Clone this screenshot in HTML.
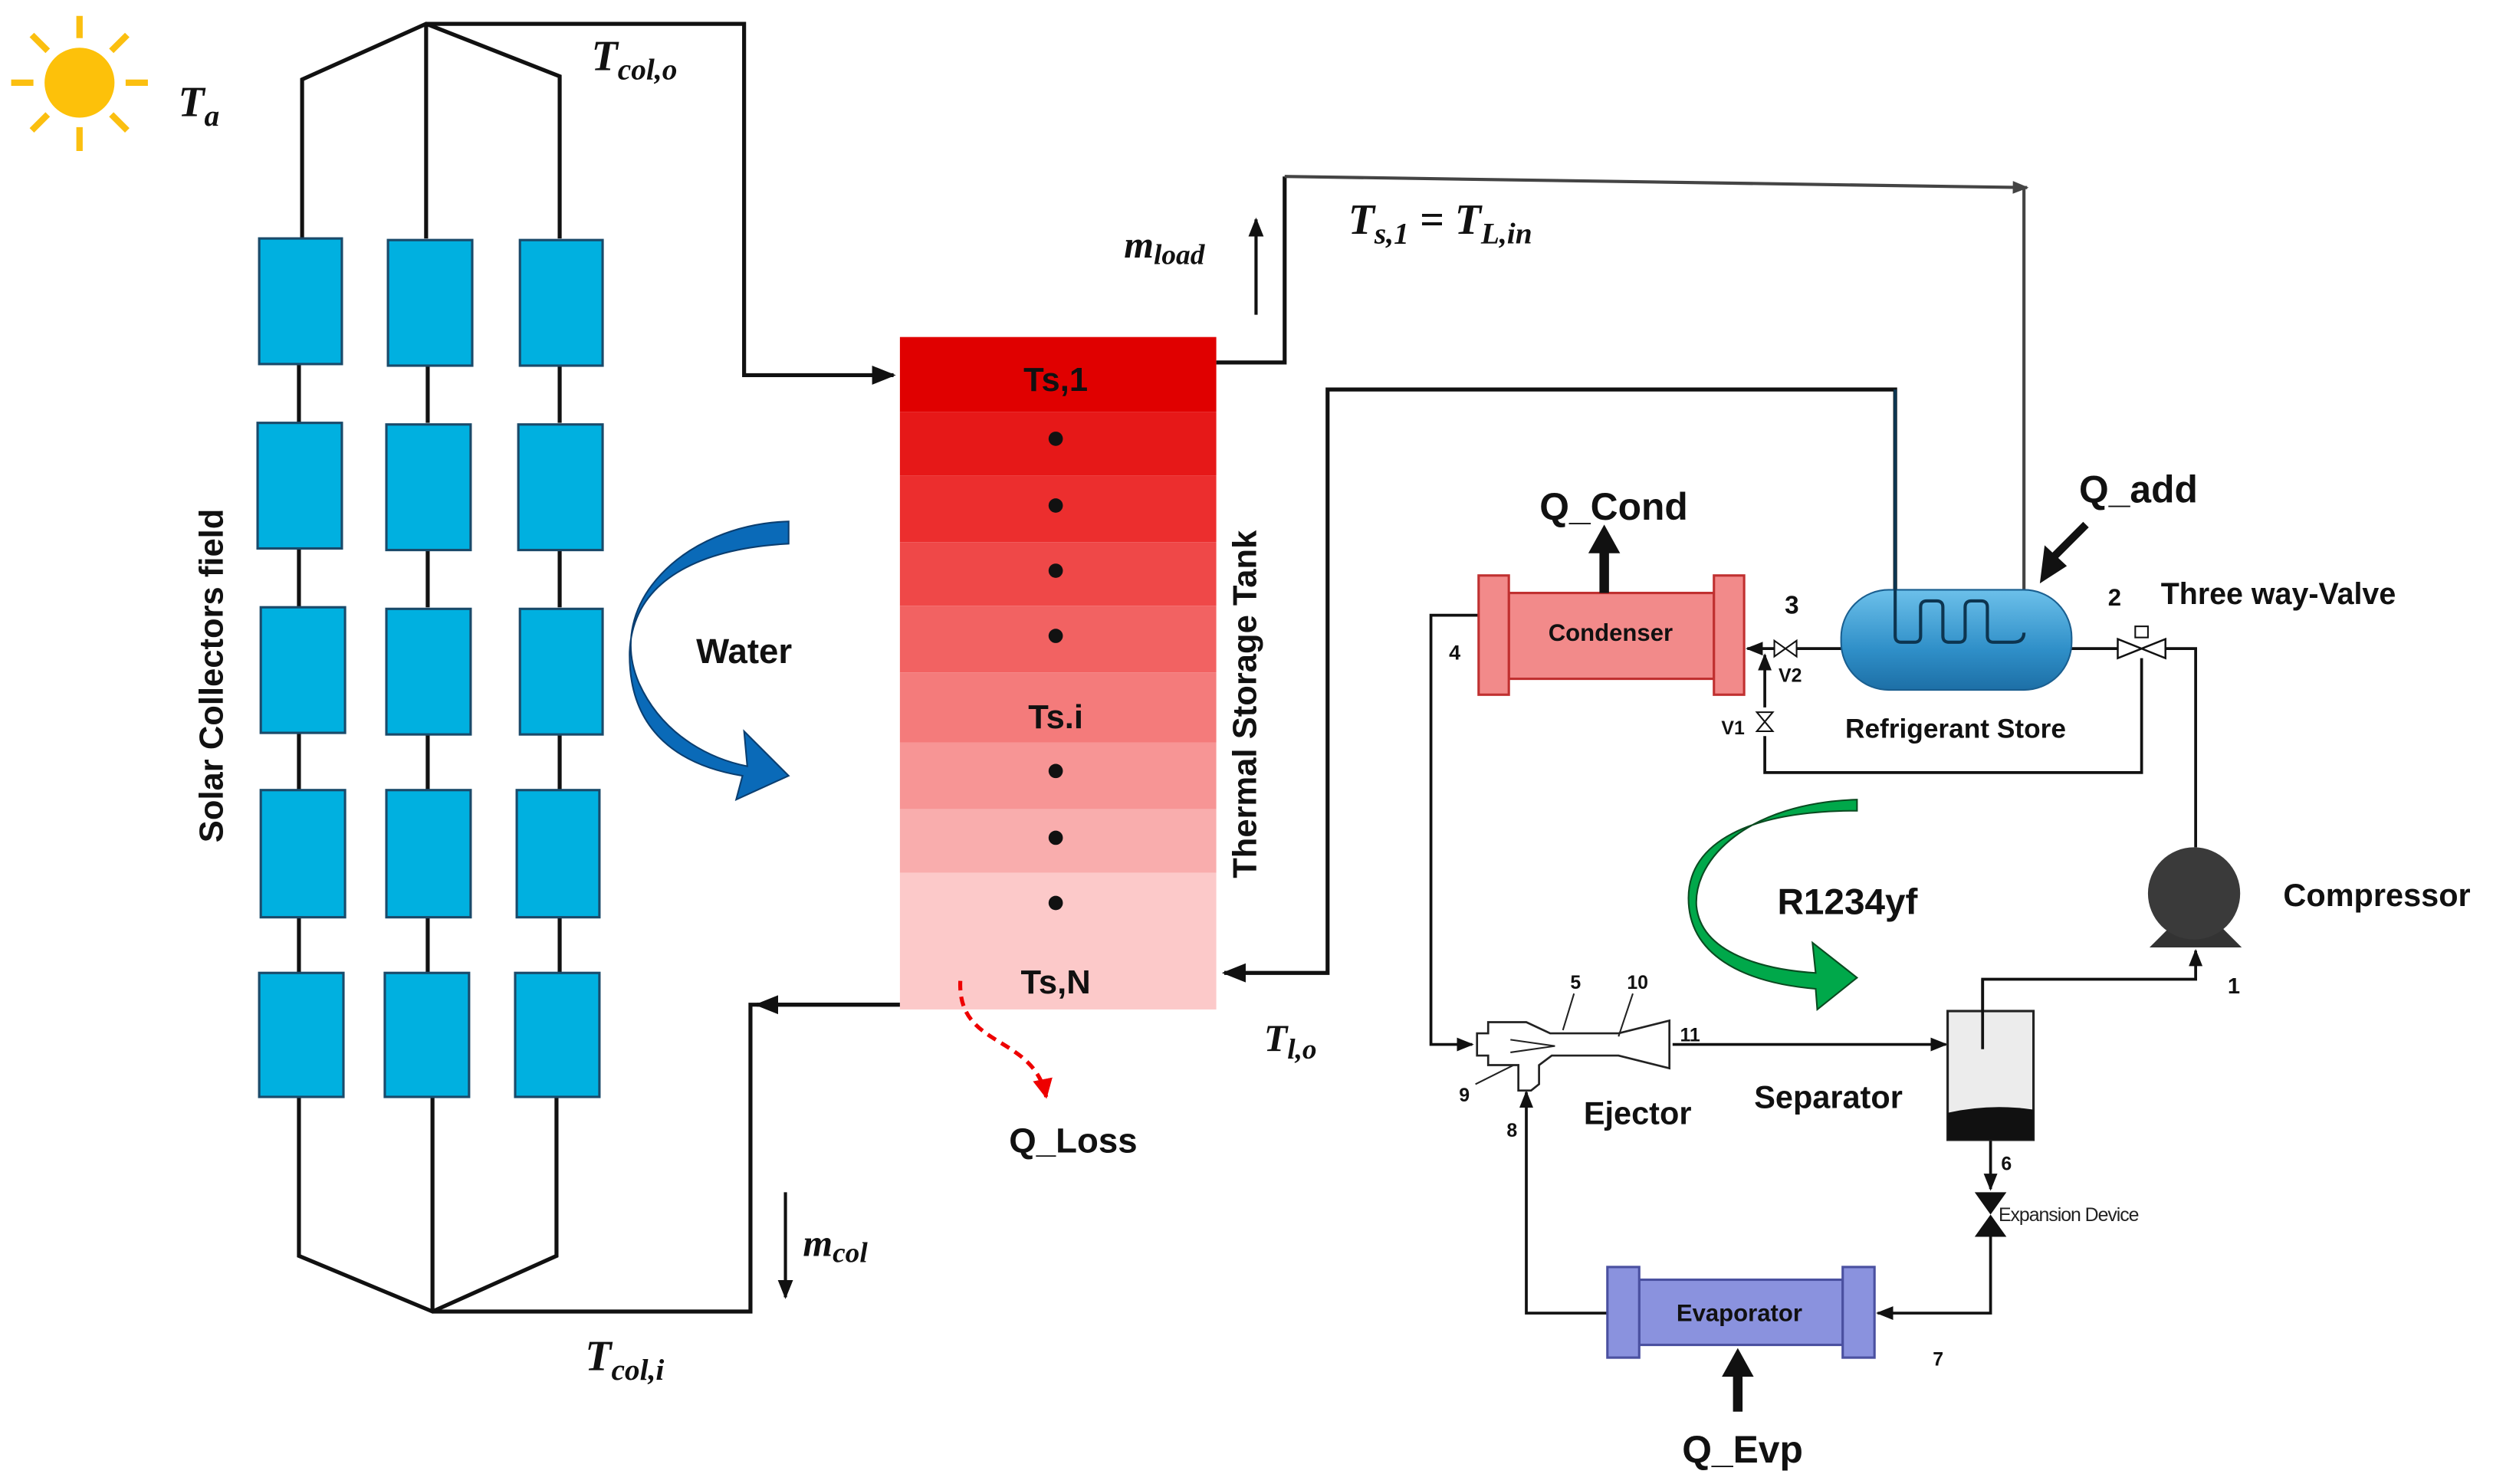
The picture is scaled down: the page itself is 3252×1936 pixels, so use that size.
<!DOCTYPE html>
<html><head><meta charset="utf-8"><style>
html,body{margin:0;padding:0;background:#fff}
svg{display:block}
.b{font-family:"Liberation Sans",sans-serif;font-weight:bold;fill:#111}
.m{font-family:"Liberation Serif",serif;font-weight:bold;font-style:italic;fill:#111}
</style></head><body>
<svg width="3252" height="1936" viewBox="0 0 1568 933.5" xmlns="http://www.w3.org/2000/svg">
<defs>
<marker id="a" viewBox="0 0 10 10" refX="9" refY="5" markerWidth="6" markerHeight="6" orient="auto-start-reverse"><path d="M0,1 L10,5 L0,9 z" fill="#111"/></marker>
<marker id="g" viewBox="0 0 10 10" refX="9" refY="5" markerWidth="5" markerHeight="5" orient="auto"><path d="M0,1 L10,5 L0,9 z" fill="#444"/></marker>
<marker id="ar" viewBox="0 0 10 10" refX="9" refY="5" markerWidth="5" markerHeight="5" orient="auto"><path d="M0,0 L10,5 L0,10 z" fill="#e00"/></marker>
<linearGradient id="st" x1="0" y1="0" x2="0" y2="1"><stop offset="0" stop-color="#6cc0ea"/><stop offset="0.6" stop-color="#2f8fc8"/><stop offset="1" stop-color="#1d6fa6"/></linearGradient>
</defs>
<g fill="none" stroke="#111" stroke-width="2.5">
<g stroke="#fbbf10" stroke-width="4"><line x1="50" y1="10" x2="50" y2="24"/><line x1="50" y1="80" x2="50" y2="95"/><line x1="7" y1="52" x2="21" y2="52"/><line x1="79" y1="52" x2="93" y2="52"/><line x1="20" y1="22" x2="30" y2="32"/><line x1="70" y1="72" x2="80" y2="82"/><line x1="80" y1="22" x2="70" y2="32"/><line x1="20" y1="82" x2="30" y2="72"/></g>
<circle cx="50" cy="52" r="22" fill="#fdc10a" stroke="none"/>
<polyline points="190,150 190,50 268,15 352,48 352,150"/>
<line x1="268" y1="15" x2="268" y2="150"/>
<polyline points="268,15 468,15 468,236 562,236" marker-end="url(#a)"/>
<polyline points="188,690 188,790 272,825 350,790 350,690"/>
<line x1="272" y1="690" x2="272" y2="825"/>
<polyline points="272,825 472,825 472,632 566,632"/>
<polyline points="566,632 476,632" marker-end="url(#a)"/>
<line x1="188" y1="229" x2="188" y2="266"/><line x1="188" y1="345" x2="188" y2="382"/><line x1="188" y1="461" x2="188" y2="498"/><line x1="188" y1="577" x2="188" y2="612"/>
<line x1="269" y1="229" x2="269" y2="266"/><line x1="269" y1="345" x2="269" y2="382"/><line x1="269" y1="461" x2="269" y2="498"/><line x1="269" y1="577" x2="269" y2="612"/>
<line x1="352" y1="229" x2="352" y2="266"/><line x1="352" y1="345" x2="352" y2="382"/><line x1="352" y1="461" x2="352" y2="498"/><line x1="352" y1="577" x2="352" y2="612"/>
<polyline points="765,228 808,228 808,111"/>
<polyline points="808,111 1275,118" stroke="#444" stroke-width="2" marker-end="url(#g)"/>
<line x1="1273" y1="118" x2="1273" y2="395" stroke="#444" stroke-width="2"/>
<polyline points="1192,395 1192,245 835,245 835,612 770,612" marker-end="url(#a)"/>
<line x1="790" y1="198" x2="790" y2="138" stroke-width="2" marker-end="url(#a)"/>
<line x1="494" y1="750" x2="494" y2="816" stroke-width="2" marker-end="url(#a)"/>
</g>
<g fill="#00b0e0" stroke="#1a4a6a" stroke-width="1.5">
<rect x="163" y="150" width="52" height="79"/><rect x="244" y="151" width="53" height="79"/><rect x="327" y="151" width="52" height="79"/>
<rect x="162" y="266" width="53" height="79"/><rect x="243" y="267" width="53" height="79"/><rect x="326" y="267" width="53" height="79"/>
<rect x="164" y="382" width="53" height="79"/><rect x="243" y="383" width="53" height="79"/><rect x="327" y="383" width="52" height="79"/>
<rect x="164" y="497" width="53" height="80"/><rect x="243" y="497" width="53" height="80"/><rect x="325" y="497" width="52" height="80"/>
<rect x="163" y="612" width="53" height="78"/><rect x="242" y="612" width="53" height="78"/><rect x="324" y="612" width="53" height="78"/>
</g>
<rect x="566" y="212" width="199" height="47" fill="#e00000"/>
<rect x="566" y="259" width="199" height="40" fill="#e61818"/>
<rect x="566" y="299" width="199" height="42" fill="#ec2e2e"/>
<rect x="566" y="341" width="199" height="40" fill="#ef4848"/>
<rect x="566" y="381" width="199" height="42" fill="#f26262"/>
<rect x="566" y="423" width="199" height="44" fill="#f47b7b"/>
<rect x="566" y="467" width="199" height="42" fill="#f79595"/>
<rect x="566" y="509" width="199" height="40" fill="#f9adad"/>
<rect x="566" y="549" width="199" height="86" fill="#fcc9c9"/>
<g fill="#111"><circle cx="664" cy="276" r="4.5"/><circle cx="664" cy="318" r="4.5"/><circle cx="664" cy="359" r="4.5"/><circle cx="664" cy="400" r="4.5"/><circle cx="664" cy="485" r="4.5"/><circle cx="664" cy="527" r="4.5"/><circle cx="664" cy="568" r="4.5"/></g>
<text class="b" x="664" y="246" font-size="21" text-anchor="middle">Ts,1</text>
<text class="b" x="664" y="458" font-size="21" text-anchor="middle">Ts.i</text>
<text class="b" x="664" y="625" font-size="21" text-anchor="middle">Ts,N</text>
<text class="b" font-size="21" text-anchor="middle" transform="translate(790,443) rotate(-90)">Thermal Storage Tank</text>
<text class="b" font-size="21" text-anchor="middle" transform="translate(140,425) rotate(-90)">Solar Collectors field</text>
<path d="M604,617 C602,660 650,650 658,690" fill="none" stroke="#e00" stroke-width="2.5" stroke-dasharray="6,4" marker-end="url(#ar)"/>
<text class="b" x="675" y="725" font-size="22" text-anchor="middle">Q_Loss</text>
<path d="M496,328 C430,330 380,380 402,430 C418,465 450,478 470,482 L468,460 L496,488 L463,503 L467,488 C430,482 395,462 396,410 C398,365 440,345 496,342 Z" fill="#0a6ab8" stroke="#0a3e70" stroke-width="1"/>
<text class="b" x="468" y="417" font-size="22" text-anchor="middle">Water</text>
<text class="m" x="112" y="73" font-size="27">T<tspan font-size="19" dy="6">a</tspan></text>
<text class="m" x="372" y="44" font-size="27">T<tspan font-size="19" dy="6">col,o</tspan></text>
<text class="m" x="368" y="862" font-size="27">T<tspan font-size="19" dy="6">col,i</tspan></text>
<text class="m" x="505" y="790" font-size="24">m<tspan font-size="18" dy="4">col</tspan></text>
<text class="m" x="707" y="162" font-size="24">m<tspan font-size="18" dy="4">load</tspan></text>
<text class="m" x="848" y="147" font-size="27">T<tspan font-size="19" dy="6">s,1</tspan><tspan dy="-6"> = T</tspan><tspan font-size="19" dy="6">L,in</tspan></text>
<text class="m" x="795" y="661" font-size="24">T<tspan font-size="18" dy="5">l,o</tspan></text>
<g fill="none" stroke="#111" stroke-width="1.8">
<polyline points="930,387 900,387 900,657 926,657" marker-end="url(#a)"/>
<line x1="1158" y1="408" x2="1130" y2="408"/>
<line x1="1116" y1="408" x2="1099" y2="408" marker-end="url(#a)"/>
<line x1="1303" y1="408" x2="1338" y2="408"/>
<polyline points="1356,408 1381,408 1381,533"/>
<polyline points="1347,414 1347,486 1110,486 1110,463"/>
<line x1="1110" y1="445" x2="1110" y2="412" marker-end="url(#a)"/>
<line x1="1052" y1="657" x2="1224" y2="657" marker-end="url(#a)"/>
<polyline points="1247,660 1247,616 1381,616 1381,598" marker-end="url(#a)"/>
<line x1="1252" y1="717" x2="1252" y2="748" marker-end="url(#a)"/>
<polyline points="1252,776 1252,826 1181,826" marker-end="url(#a)"/>
<polyline points="1011,826 960,826 960,687" marker-end="url(#a)"/>
</g>
<rect x="949" y="373" width="129" height="54" fill="#f28a8a" stroke="#c03030" stroke-width="1.5"/>
<rect x="930" y="362" width="19" height="75" fill="#f28a8a" stroke="#c03030" stroke-width="1.5"/>
<rect x="1078" y="362" width="19" height="75" fill="#f28a8a" stroke="#c03030" stroke-width="1.5"/>
<text class="b" x="1013" y="403" font-size="15" text-anchor="middle" fill="#3a1010">Condenser</text>
<line x1="1009" y1="373" x2="1009" y2="345" stroke="#111" stroke-width="6"/>
<path d="M999,348 L1009,330 L1019,348 Z" fill="#111"/>
<text class="b" x="1015" y="327" font-size="24" text-anchor="middle">Q_Cond</text>
<rect x="1158" y="371" width="145" height="63" rx="30" fill="url(#st)" stroke="#1a5f90" stroke-width="1"/>
<path d="M1192,245 L1192,400 Q1192,404 1196,404 L1204,404 Q1208,404 1208,400 L1208,382 Q1208,378 1212,378 L1218,378 Q1222,378 1222,382 L1222,400 Q1222,404 1226,404 L1232,404 Q1236,404 1236,400 L1236,382 Q1236,378 1240,378 L1246,378 Q1250,378 1250,382 L1250,400 Q1250,404 1254,404 L1266,404 Q1273,404 1273,398" fill="none" stroke="#0d3550" stroke-width="2"/>
<line x1="1312" y1="330" x2="1292" y2="350" stroke="#111" stroke-width="5"/>
<path d="M1283,367 L1286,343 L1300,356 Z" fill="#111"/>
<text class="b" x="1345" y="316" font-size="24" text-anchor="middle">Q_add</text>
<text class="b" x="1230" y="464" font-size="17" text-anchor="middle">Refrigerant Store</text>
<path d="M1116,403 L1130,413 L1130,403 L1116,413 Z" fill="#fff" stroke="#111" stroke-width="1"/>
<path d="M1105,448 L1115,448 L1105,460 L1115,460 Z" fill="#fff" stroke="#111" stroke-width="1"/>
<path d="M1332,402 L1362,414 L1362,402 L1332,414 Z" fill="#fff" stroke="#111" stroke-width="1.2"/>
<rect x="1343" y="394" width="8" height="7" fill="#fff" stroke="#111" stroke-width="1"/>
<text class="b" x="1127" y="386" font-size="16" text-anchor="middle">3</text>
<text class="b" x="1126" y="429" font-size="12" text-anchor="middle">V2</text>
<text class="b" x="1090" y="462" font-size="12" text-anchor="middle">V1</text>
<text class="b" x="1330" y="381" font-size="15" text-anchor="middle">2</text>
<text class="b" x="1433" y="380" font-size="19" text-anchor="middle">Three way-Valve</text>
<text class="b" x="915" y="415" font-size="13" text-anchor="middle">4</text>
<path d="M1352,596 L1366,582 L1396,582 L1410,596 Z" fill="#333"/>
<circle cx="1380" cy="562" r="29" fill="#3a3a3a"/>
<text class="b" x="1495" y="570" font-size="20" text-anchor="middle">Compressor</text>
<text class="b" x="1405" y="625" font-size="14" text-anchor="middle">1</text>
<path d="M1168,503 C1100,505 1065,540 1067,570 C1070,600 1110,610 1142,612 L1140,593 L1168,615 L1143,635 L1142,622 C1095,618 1062,600 1062,565 C1062,530 1100,510 1168,510 Z" fill="#00a84a" stroke="#0a4a20" stroke-width="1"/>
<text class="b" x="1162" y="575" font-size="23" text-anchor="middle">R1234yf</text>
<path d="M929,650 L936,650 L936,643 L960,643 L975,650 L1018,650 L1050,642 L1050,672 L1018,664 L976,664 L968,670 L968,682 L963,686 L955,686 L955,670 L936,670 L936,664 L929,664 Z" fill="#fff" stroke="#222" stroke-width="1.3"/>
<line x1="950" y1="654" x2="978" y2="658" stroke="#222" stroke-width="1"/><line x1="950" y1="662" x2="978" y2="658" stroke="#222" stroke-width="1"/>
<line x1="990" y1="625" x2="983" y2="648" stroke="#222" stroke-width="1"/><line x1="1027" y1="625" x2="1018" y2="652" stroke="#222" stroke-width="1"/><line x1="928" y1="682" x2="952" y2="670" stroke="#222" stroke-width="1"/>
<g class="b" font-size="12" text-anchor="middle"><text x="991" y="622">5</text><text x="1030" y="622">10</text><text x="1063" y="655">11</text><text x="921" y="693">9</text><text x="951" y="715">8</text><text x="1262" y="736">6</text><text x="1219" y="859">7</text></g>
<text class="b" x="1030" y="707" font-size="20" text-anchor="middle">Ejector</text>
<text class="b" x="1150" y="697" font-size="20" text-anchor="middle">Separator</text>
<rect x="1225" y="636" width="54" height="81" fill="#ececec" stroke="#222" stroke-width="1.5"/>
<path d="M1225,700 Q1252,694 1279,698 L1279,717 L1225,717 Z" fill="#111"/>
<line x1="1247" y1="616" x2="1247" y2="660" stroke="#111" stroke-width="1.8"/>
<path d="M1242,750 L1262,750 L1252,764 Z M1242,778 L1262,778 L1252,764 Z" fill="#111"/>
<text x="1257" y="768" font-family="Liberation Sans Narrow,Liberation Sans,sans-serif" font-size="12" fill="#222" letter-spacing="-0.5">Expansion Device</text>
<rect x="1031" y="805" width="128" height="41" fill="#8a92de" stroke="#4a50a0" stroke-width="1.5"/>
<rect x="1011" y="797" width="20" height="57" fill="#8a92de" stroke="#4a50a0" stroke-width="1.5"/>
<rect x="1159" y="797" width="20" height="57" fill="#8a92de" stroke="#4a50a0" stroke-width="1.5"/>
<text class="b" x="1094" y="831" font-size="15" text-anchor="middle" fill="#1a1a50">Evaporator</text>
<line x1="1093" y1="888" x2="1093" y2="865" stroke="#111" stroke-width="6"/>
<path d="M1083,866 L1093,848 L1103,866 Z" fill="#111"/>
<text class="b" x="1096" y="920" font-size="24" text-anchor="middle">Q_Evp</text>
</svg>
</body></html>
